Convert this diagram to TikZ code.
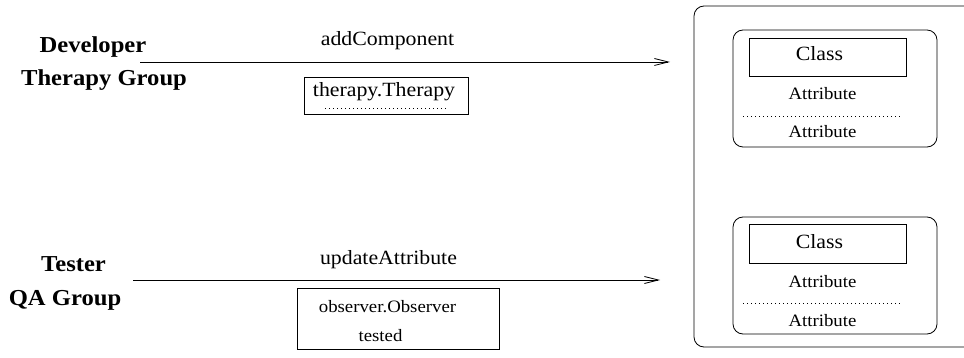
\documentclass[tikz,border=0pt]{standalone}
\usepackage{fontspec}
\setmainfont{Liberation Serif}[FakeStretch=1.08]
\usetikzlibrary{arrows.meta}
\begin{document}
\begin{tikzpicture}[x=1pt,y=-1pt,line width=0.8pt,
  actor/.style={font=\fontsize{22.8}{25}\selectfont\bfseries, inner sep=0pt, anchor=base},
  msg/.style={font=\fontsize{20.2}{23}\selectfont, inner sep=0pt, anchor=base},
  small/.style={font=\fontsize{17.4}{20}\selectfont, inner sep=0pt, anchor=base},
  frame/.style={draw, inner sep=0pt, minimum width=#1},
  objbox/.style={draw, rounded corners=10pt, inner sep=0pt, minimum width=204pt, minimum height=117pt},
  classbox/.style={draw, inner sep=0pt, minimum width=157pt, minimum height=38.5pt},
  dotline/.style={line width=0.6pt, dash pattern=on 0.6pt off 3.4pt},
  flow/.style={-{Straight Barb[length=14pt,width=7pt]}, line width=0.8pt},
]
\useasboundingbox (0,0) rectangle (964,358);

% container; its right side lies past the page edge
\begin{scope}
  \clip (0,0) rectangle (964,358);
  \draw[rounded corners=10pt] (694,6) rectangle (1000,347);
\end{scope}

% actors
\node[actor] (dev)  at (93,53)   {Developer};
\node[actor] (tgrp) at (104,86)  {Therapy Group};
\node[actor] (tst)  at (73.5,272) {Tester};
\node[actor] (qa)   at (65,305)  {QA Group};

% message arrows
\coordinate (m1s) at (140,62);
\coordinate (m1e) at (670,62);
\coordinate (m2s) at (133,280);
\coordinate (m2e) at (660,280);
\draw[flow] (m1s) -- (m1e);
\draw[flow] (m2s) -- (m2e);
\node[msg] (addc) at (387.5,46)  {addComponent};
\node[msg] (upda) at (388.5,265) {updateAttribute};

% message parameters
\node[frame=164pt, minimum height=37pt] (tbox) at (386,95.5) {};
\node[msg] (ttxt) at (384,97) {therapy.Therapy};
\draw[dotline] (325,108) -- (447,108);

\node[frame=202pt, minimum height=61pt] (obox) at (398,318.5) {};
\node[small] (otxt) at (387.5,312) {observer.Observer};
\node[small] (ttag) at (380.5,341.5) {tested};

% objects inside the container
\node[objbox] (obj1) at (835,88.5) {};
\node[classbox] (cls1) at (827.5,57.5) {};
\node[msg] at (819.5,61) {Class};
\node[small] at (822.5,100) {Attribute};
\draw[dotline] (743,116) -- (901,116);
\node[small] at (822.5,137.5) {Attribute};

\node[objbox] (obj2) at (835,275.5) {};
\node[classbox] (cls2) at (827.5,244) {};
\node[msg] at (819.5,248.5) {Class};
\node[small] at (822.5,287.5) {Attribute};
\draw[dotline] (743,303) -- (901,303);
\node[small] at (822.5,326.5) {Attribute};
\end{tikzpicture}
\end{document}
